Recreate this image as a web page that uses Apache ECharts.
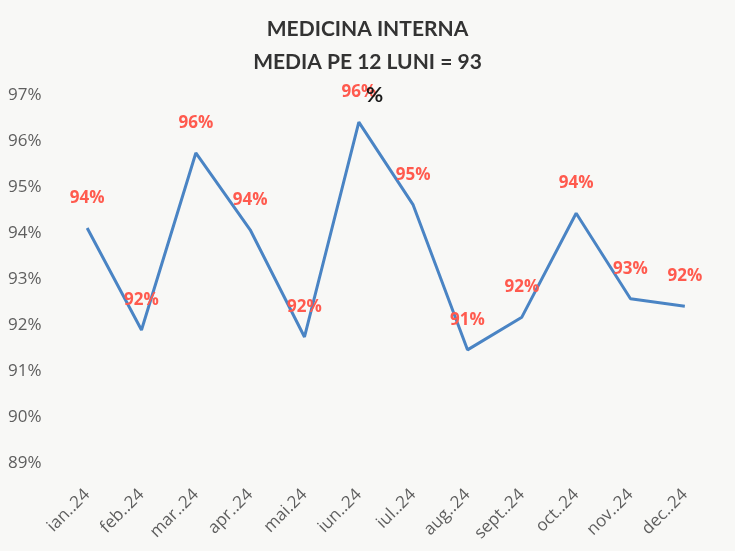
<!DOCTYPE html>
<html><head><meta charset="utf-8">
<script src="https://cdn.jsdelivr.net/npm/echarts@6/dist/echarts.min.js"></script>
<style>html,body{margin:0;padding:0;background:#f8f8f6;}#c{width:735px;height:551px;}</style>
</head><body><div id="c"></div>
<script>
const categories = ['ian..24','feb..24','mar..24','apr..24','mai.24','iun..24','iul..24','aug..24','sept..24','oct..24','nov..24','dec..24'];
const values = [94.11, 91.89, 95.74, 94.07, 91.74, 96.41, 94.61, 91.46, 92.17, 94.43, 92.57, 92.41];
const yTicks = [89, 90, 91, 92, 93, 94, 95, 96, 97];
const titleLines = ['MEDICINA INTERNA', 'MEDIA PE 12 LUNI = 93', '%'];

const chart = echarts.init(document.getElementById('c'));
chart.setOption({
  backgroundColor: '#f8f8f6',
  title: {
    text: titleLines[0] + '\n' + titleLines[1] + '\n{p|' + titleLines[2] + '}',
    left: 'center', top: 8,
    textStyle: {
      fontFamily: 'Lato', fontWeight: 'bold', fontSize: 21, color: '#333333', lineHeight: 33,
      rich: { p: { fontFamily: 'Lato', fontWeight: 'bold', fontSize: 21, color: '#1a1a1a', padding: [0, 0, 0, 14], lineHeight: 33 } }
    },
    z: 10
  },
  grid: { left: 60, right: 23, top: 95, bottom: 88 },
  xAxis: {
    type: 'category', data: categories, boundaryGap: true,
    axisLine: { show: false }, axisTick: { show: false },
    axisLabel: { rotate: 45, fontFamily: 'Open Sans', fontSize: 17, color: '#5e5e5e', margin: 29 }
  },
  yAxis: {
    type: 'value', min: yTicks[0], max: yTicks[yTicks.length - 1], interval: 1,
    splitLine: { show: false }, axisLine: { show: false }, axisTick: { show: false },
    axisLabel: { formatter: v => v + '%', align: 'left', margin: 52, fontFamily: 'Open Sans', fontSize: 17, color: '#5e5e5e' }
  },
  series: [{
    type: 'line', data: values, symbol: 'circle', symbolSize: 1, showSymbol: true,
    itemStyle: { color: '#4a84c4', opacity: 0 },
    lineStyle: { color: '#4a84c4', width: 3, opacity: 1 },
    label: {
      show: true, position: 'top', distance: 21,
      formatter: p => Math.round(p.value) + '%',
      fontFamily: 'Open Sans', fontWeight: 'bold', fontSize: 17, color: '#ff5a4e', opacity: 1
    }
  }]
});
</script></body></html>
